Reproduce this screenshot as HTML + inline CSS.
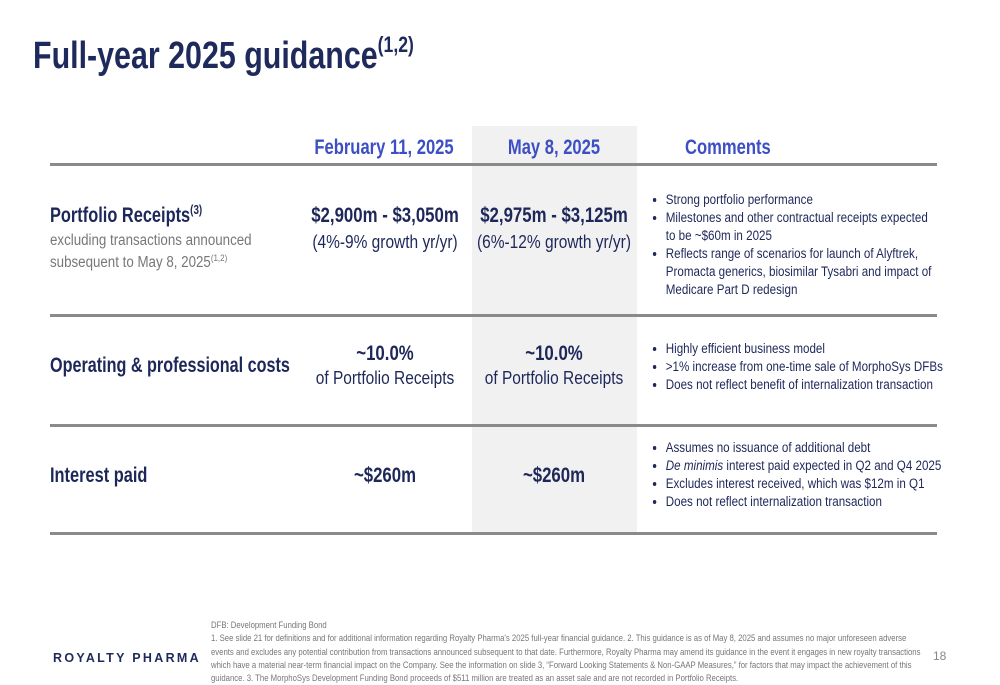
<!DOCTYPE html>
<html><head><meta charset="utf-8"><style>
body{margin:0;width:1000px;height:685px;background:#fff;overflow:hidden;position:relative;font-family:"Liberation Sans",sans-serif;color:#1e2759}
.a{position:absolute;white-space:nowrap}
.c{text-align:center;transform-origin:50% 0}
.l{transform-origin:0 0}
.h{color:#3d4fc4;font-weight:bold;font-size:21px}
.rule{position:absolute;left:50px;width:887px;height:3px;background:#8a8a8a}
.lab{font-weight:bold;font-size:21px}
.big{font-weight:bold;font-size:21px}
.sub{font-size:18px}
ul{margin:0;padding:0 0 0 16px;font-size:13.5px;line-height:18px;position:absolute;color:#1e2759;transform:scaleX(.86);transform-origin:0 0;white-space:nowrap}
li{margin:0}
sup{font-size:60%;line-height:0}
</style></head><body>
<div class="a l" style="left:33px;top:35px;font-size:38px;font-weight:bold;color:#1f2a5c;transform:scaleX(.8)">Full-year 2025 guidance<sup style="font-size:22px;vertical-align:16px">(1,2)</sup></div>
<div class="a" style="left:472px;top:126px;width:165px;height:406px;background:#f1f1f1"></div>
<div class="a c h" style="left:284px;width:200px;top:136px;transform:scaleX(.79)">February 11, 2025</div>
<div class="a c h" style="left:454px;width:200px;top:136px;transform:scaleX(.79)">May 8, 2025</div>
<div class="a l h" style="left:685px;top:136px;transform:scaleX(.79)">Comments</div>
<div class="rule" style="top:163px"></div>
<div class="rule" style="top:314px"></div>
<div class="rule" style="top:424px"></div>
<div class="rule" style="top:532px"></div>

<div class="a l lab" style="left:50px;top:204px;transform:scaleX(.78)">Portfolio Receipts<sup>(3)</sup></div>
<div class="a l" style="left:50px;top:230px;font-size:15.5px;line-height:22px;color:#777;transform:scaleX(.86)">excluding transactions announced<br>subsequent to May 8, 2025<sup>(1,2)</sup></div>
<div class="a c" style="left:285px;width:200px;top:204px"><div class="big" style="transform:scaleX(.8)">$2,900m - $3,050m</div><div class="sub" style="margin-top:4px;transform:scaleX(.86)">(4%-9% growth yr/yr)</div></div>
<div class="a c" style="left:454px;width:200px;top:204px"><div class="big" style="transform:scaleX(.8)">$2,975m - $3,125m</div><div class="sub" style="margin-top:4px;transform:scaleX(.86)">(6%-12% growth yr/yr)</div></div>
<ul style="left:652px;top:191px">
<li>Strong portfolio performance</li>
<li>Milestones and other contractual receipts expected<br>to be ~$60m in 2025</li>
<li>Reflects range of scenarios for launch of Alyftrek,<br>Promacta generics, biosimilar Tysabri and impact of<br>Medicare Part D redesign</li></ul>

<div class="a l lab" style="left:50px;top:354px;transform:scaleX(.77)">Operating &amp; professional costs</div>
<div class="a c" style="left:285px;width:200px;top:342px"><div class="big" style="transform:scaleX(.8)">~10.0%</div><div class="sub" style="margin-top:2px;transform:scaleX(.86)">of Portfolio Receipts</div></div>
<div class="a c" style="left:454px;width:200px;top:342px"><div class="big" style="transform:scaleX(.8)">~10.0%</div><div class="sub" style="margin-top:2px;transform:scaleX(.86)">of Portfolio Receipts</div></div>
<ul style="left:652px;top:340px">
<li>Highly efficient business model</li>
<li>&gt;1% increase from one-time sale of MorphoSys DFBs</li>
<li>Does not reflect benefit of internalization transaction</li></ul>

<div class="a l lab" style="left:50px;top:464px;transform:scaleX(.78)">Interest paid</div>
<div class="a c big" style="left:285px;width:200px;top:464px;transform:scaleX(.8)">~$260m</div>
<div class="a c big" style="left:454px;width:200px;top:464px;transform:scaleX(.8)">~$260m</div>
<ul style="left:652px;top:439px">
<li>Assumes no issuance of additional debt</li>
<li><i>De minimis</i> interest paid expected in Q2 and Q4 2025</li>
<li>Excludes interest received, which was $12m in Q1</li>
<li>Does not reflect internalization transaction</li></ul>

<div class="a" style="left:53px;top:651px;font-family:'Liberation Sans',sans-serif;font-weight:bold;font-size:12.5px;letter-spacing:2.3px;color:#1f2a5c">ROYALTY PHARMA</div>
<div class="a l" style="left:211px;top:619px;font-size:9px;line-height:13.3px;color:#777;white-space:normal;width:830px;transform:scaleX(.86)">DFB: Development Funding Bond<br>1. See slide 21 for definitions and for additional information regarding Royalty Pharma's 2025 full-year financial guidance. 2. This guidance is as of May 8, 2025 and assumes no major unforeseen adverse events and excludes any potential contribution from transactions announced subsequent to that date. Furthermore, Royalty Pharma may amend its guidance in the event it engages in new royalty transactions which have a material near-term financial impact on the Company. See the information on slide 3, “Forward Looking Statements &amp; Non-GAAP Measures,” for factors that may impact the achievement of this guidance. 3. The MorphoSys Development Funding Bond proceeds of $511 million are treated as an asset sale and are not recorded in Portfolio Receipts.</div>
<div class="a" style="left:933px;top:649px;font-size:12px;color:#888">18</div>
</body></html>
